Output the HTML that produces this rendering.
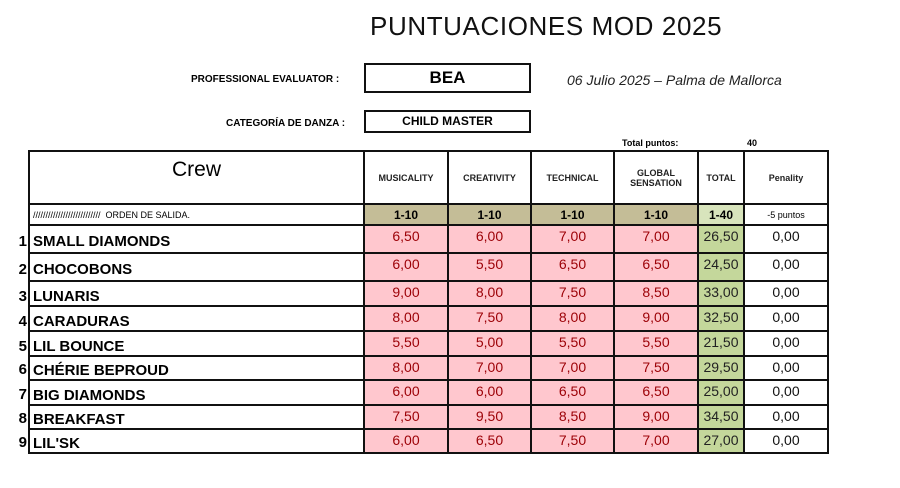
<!DOCTYPE html>
<html><head><meta charset="utf-8"><style>
body{margin:0;width:900px;height:488px;background:#fff;font-family:"Liberation Sans",sans-serif;position:relative;overflow:hidden}
.a{position:absolute;white-space:nowrap}
table{position:absolute;left:28px;top:150px;border-collapse:collapse;table-layout:fixed}
td{border:2px solid #111;padding:0;text-align:center;font-size:14px;overflow:hidden;white-space:nowrap}
td.n{text-align:left;font-weight:bold;font-size:15px;padding-left:3px;padding-top:5px}
.p{background:#ffc7ce;color:#9c0006;vertical-align:top;padding-top:2px}
.t{background:#c4d79b;color:#222;vertical-align:top;padding-top:2px}
.w{vertical-align:top;padding-top:2px;color:#111}
.h{font-size:9px;font-weight:bold;color:#222}
.s{background:#c4bd97;font-weight:bold;font-size:12px}
.num{position:absolute;left:14px;width:13px;text-align:right;font-weight:bold;font-size:15px}
</style></head><body>
<div class="a" style="left:370px;top:11px;font-size:26px;letter-spacing:0.6px;color:#111">PUNTUACIONES MOD 2025</div>
<div class="a" style="left:191px;top:74px;font-size:10px;font-weight:bold">PROFESSIONAL EVALUATOR :</div>
<div class="a" style="left:364px;top:63px;width:163px;height:26px;border:2px solid #111;text-align:center;font-weight:bold;font-size:17px;line-height:26px">BEA</div>
<div class="a" style="left:567px;top:72px;font-size:14px;font-style:italic;color:#222">06 Julio 2025 – Palma de Mallorca</div>
<div class="a" style="left:226px;top:118px;font-size:10px;font-weight:bold">CATEGORÍA DE DANZA :</div>
<div class="a" style="left:364px;top:110px;width:163px;height:19px;border:2px solid #111;text-align:center;font-weight:bold;font-size:12px;line-height:19px">CHILD MASTER</div>
<div class="a" style="left:622px;top:138px;font-size:9px;font-weight:bold">Total puntos:</div>
<div class="a" style="left:747px;top:138px;font-size:9px;font-weight:bold">40</div>
<table>
<colgroup><col style="width:335px"><col style="width:84px"><col style="width:83px"><col style="width:83px"><col style="width:84px"><col style="width:46px"><col style="width:84px"></colgroup>
<tr style="height:53px"><td style="vertical-align:top;padding-top:6px;font-size:21px">Crew</td><td class="h">MUSICALITY</td><td class="h">CREATIVITY</td><td class="h">TECHNICAL</td><td class="h">GLOBAL<br>SENSATION</td><td class="h">TOTAL</td><td class="h">Penality</td></tr>
<tr style="height:21px"><td style="text-align:left;font-size:9px;padding-left:3px">/////////////////////////// &nbsp;ORDEN DE SALIDA.</td><td class="s">1-10</td><td class="s">1-10</td><td class="s">1-10</td><td class="s">1-10</td><td class="s" style="background:#d8e4bc">1-40</td><td style="font-size:9px">-5 puntos</td></tr>
<tr style="height:28px"><td class="n">SMALL DIAMONDS</td><td class="p">6,50</td><td class="p">6,00</td><td class="p">7,00</td><td class="p">7,00</td><td class="t">26,50</td><td class="w">0,00</td></tr>
<tr style="height:28px"><td class="n">CHOCOBONS</td><td class="p">6,00</td><td class="p">5,50</td><td class="p">6,50</td><td class="p">6,50</td><td class="t">24,50</td><td class="w">0,00</td></tr>
<tr style="height:25px"><td class="n">LUNARIS</td><td class="p">9,00</td><td class="p">8,00</td><td class="p">7,50</td><td class="p">8,50</td><td class="t">33,00</td><td class="w">0,00</td></tr>
<tr style="height:25px"><td class="n">CARADURAS</td><td class="p">8,00</td><td class="p">7,50</td><td class="p">8,00</td><td class="p">9,00</td><td class="t">32,50</td><td class="w">0,00</td></tr>
<tr style="height:25px"><td class="n">LIL BOUNCE</td><td class="p">5,50</td><td class="p">5,00</td><td class="p">5,50</td><td class="p">5,50</td><td class="t">21,50</td><td class="w">0,00</td></tr>
<tr style="height:24px"><td class="n">CHÉRIE BEPROUD</td><td class="p">8,00</td><td class="p">7,00</td><td class="p">7,00</td><td class="p">7,50</td><td class="t">29,50</td><td class="w">0,00</td></tr>
<tr style="height:25px"><td class="n">BIG DIAMONDS</td><td class="p">6,00</td><td class="p">6,00</td><td class="p">6,50</td><td class="p">6,50</td><td class="t">25,00</td><td class="w">0,00</td></tr>
<tr style="height:24px"><td class="n">BREAKFAST</td><td class="p">7,50</td><td class="p">9,50</td><td class="p">8,50</td><td class="p">9,00</td><td class="t">34,50</td><td class="w">0,00</td></tr>
<tr style="height:24px"><td class="n">LIL'SK</td><td class="p">6,00</td><td class="p">6,50</td><td class="p">7,50</td><td class="p">7,00</td><td class="t">27,00</td><td class="w">0,00</td></tr>
</table>
<div class="num" style="top:233px">1</div>
<div class="num" style="top:261px">2</div>
<div class="num" style="top:288px">3</div>
<div class="num" style="top:313px">4</div>
<div class="num" style="top:338px">5</div>
<div class="num" style="top:361px">6</div>
<div class="num" style="top:386px">7</div>
<div class="num" style="top:410px">8</div>
<div class="num" style="top:434px">9</div>
</body></html>
